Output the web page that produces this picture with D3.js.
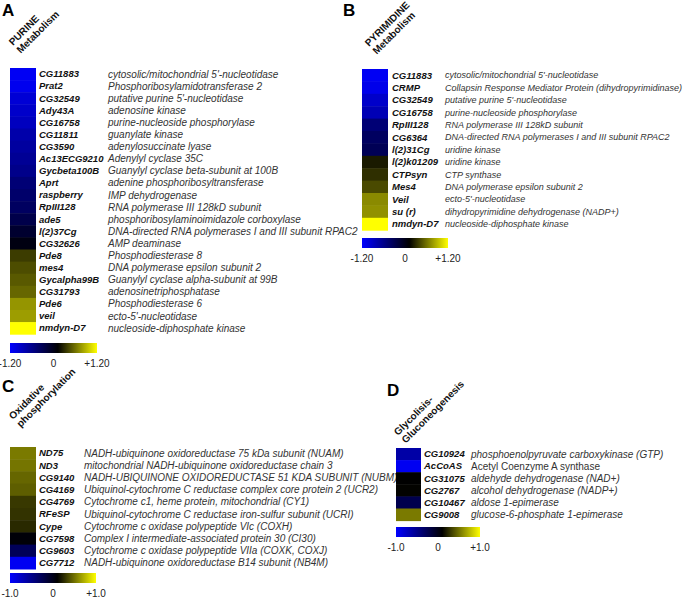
<!DOCTYPE html>
<html>
<head>
<meta charset="utf-8">
<script src="https://cdn.jsdelivr.net/npm/d3@7"></script>
<style>
body { margin: 0; background: #fff; }
svg text { font-family: "Liberation Sans", Arial, sans-serif; }
</style>
</head>
<body>
<div id="chart"></div>
<script>
// A - purine metabolism
var genesA = ["CG11883", "Prat2", "CG32549", "Ady43A", "CG16758", "CG11811", "CG3590",
  "Ac13ECG9210", "Gycbeta100B", "Aprt", "raspberry", "RpIII128", "ade5", "l(2)37Cg",
  "CG32626", "Pde8", "mes4", "Gycalpha99B", "CG31793", "Pde6", "veil", "nmdyn-D7"];
var descA = ["cytosolic/mitochondrial 5'-nucleotidase", "Phosphoribosylamidotransferase 2",
  "putative purine 5'-nucleotidase", "adenosine kinase", "purine-nucleoside phosphorylase",
  "guanylate kinase", "adenylosuccinate lyase", "Adenylyl cyclase 35C",
  "Guanylyl cyclase beta-subunit at 100B", "adenine phosphoribosyltransferase",
  "IMP dehydrogenase", "RNA polymerase III 128kD subunit",
  "phosphoribosylaminoimidazole corboxylase", "DNA-directed RNA polymerases I and III subunit RPAC2",
  "AMP deaminase", "Phosphodiesterase 8", "DNA polymerase epsilon subunit 2",
  "Guanylyl cyclase alpha-subunit at 99B", "adenosinetriphosphatase", "Phosphodiesterase 6",
  "ecto-5'-nucleotidase", "nucleoside-diphosphate kinase"];
var valuesA = [-1.15, -1.12, -1.0, -0.95, -0.9, -0.8, -0.75, -0.7, -0.65, -0.55, -0.5,
  -0.45, -0.35, -0.22, -0.08, 0.28, 0.36, 0.42, 0.48, 0.7, 0.74, 1.2];
var ticksA = ["-1.20", "0", "+1.20"];

// B - pyrimidine metabolism
var genesB = ["CG11883", "CRMP", "CG32549", "CG16758", "RpIII128", "CG6364", "l(2)31Cg",
  "l(2)k01209", "CTPsyn", "Mes4", "Veil", "su (r)", "nmdyn-D7"];
var descB = ["cytosolic/mitochondrial 5'-nucleotidase",
  "Collapsin Response Mediator Protein (dihydropyrimidinase)",
  "putative purine 5'-nucleotidase", "purine-nucleoside phosphorylase",
  "RNA polymerase III 128kD subunit", "DNA-directed RNA polymerases I and III subunit RPAC2",
  "uridine kinase", "uridine kinase", "CTP synthase", "DNA polymerase epsilon subunit 2",
  "ecto-5'-nucleotidase", "dihydropyrimidine dehydrogenase (NADP+)",
  "nucleoside-diphosphate kinase"];
var valuesB = [-1.15, -1.1, -0.95, -0.85, -0.55, -0.45, -0.4, 0.12, 0.22, 0.35, 0.65, 0.68, 1.2];
var ticksB = ["-1.20", "0", "+1.20"];

// C - oxidative phosphorylation
var genesC = ["ND75", "ND3", "CG9140", "CG4169", "CG4769", "RFeSP", "Cype", "CG7598",
  "CG9603", "CG7712"];
var descC = ["NADH-ubiquinone oxidoreductase 75 kDa subunit (NUAM)",
  "mitochondrial NADH-ubiquinone oxidoreductase chain 3",
  "NADH-UBIQUINONE OXIDOREDUCTASE 51 KDA SUBUNIT (NUBM)",
  "Ubiquinol-cytochrome C reductase complex core protein 2 (UCR2)",
  "Cytochrome c1, heme protein, mitochondrial (CY1)",
  "Ubiquinol-cytochrome C reductase iron-sulfur subunit (UCRI)",
  "Cytochrome c oxidase polypeptide VIc (COXH)",
  "Complex I intermediate-associated protein 30 (CI30)",
  "Cytochrome c oxidase polypeptide VIIa (COXK, COXJ)",
  "NADH-ubiquinone oxidoreductase B14 subunit (NB4M)"];
var valuesC = [0.48, 0.46, 0.4, 0.37, 0.22, 0.2, 0.16, -0.03, -0.35, -0.95];
var ticksC = ["-1.0", "0", "+1.0"];

// D - glycolisis / gluconeogenesis
var genesD = ["CG10924", "AcCoAS", "CG31075", "CG2767", "CG10467", "CG9008"];
var descD = ["phosphoenolpyruvate carboxykinase (GTP)", "Acetyl Coenzyme A synthase",
  "aldehyde dehydrogenase (NAD+)", "alcohol dehydrogenase (NADP+)", "aldose 1-epimerase",
  "glucose-6-phosphate 1-epimerase"];
var valuesD = [-0.65, -0.95, 0.0, 0.01, -0.3, 0.48];
var ticksD = ["-1.0", "0", "+1.0"];

var svg = d3.select("#chart").append("svg")
    .attr("width", 683)
    .attr("height", 599);

var defs = svg.append("defs");
var grad = defs.append("linearGradient").attr("id", "bar");
grad.append("stop").attr("offset", "0%").attr("stop-color", "#0000ff");
grad.append("stop").attr("offset", "55%").attr("stop-color", "#000000");
grad.append("stop").attr("offset", "100%").attr("stop-color", "#ffff00");

function drawPanel(p) {
  var g = svg.append("g");
  var color = d3.scaleLinear()
    .domain([-p.max, 0, p.max])
    .range(["#0000ff", "#000000", "#ffff00"])
    .clamp(true);

  g.append("text")
    .attr("x", p.labelX).attr("y", p.labelY)
    .attr("font-size", 17).attr("font-weight", "bold")
    .text(p.letter);

  // rotated title, one text per line, lines stacked perpendicular to the slant
  var c = Math.SQRT1_2;
  g.selectAll("text.title").data(p.title).enter()
    .append("text")
      .attr("class", "title")
      .attr("transform", function(d, i) {
        var tx = p.titleX + i * 11 * c, ty = p.titleY + i * 11 * c;
        return "translate(" + tx + "," + ty + ") rotate(-45)";
      })
      .attr("font-size", 10).attr("font-weight", "bold").attr("fill", "#111")
      .text(function(d) { return d; });

  var y = d3.scaleBand()
    .domain(d3.range(p.genes.length))
    .range([p.top, p.top + p.genes.length * p.rowH]);

  g.selectAll("rect.cell").data(p.values).enter()
    .append("rect")
      .attr("class", "cell")
      .attr("x", p.x)
      .attr("y", function(d, i) { return y(i); })
      .attr("width", p.w)
      .attr("height", y.bandwidth() + 0.5)
      .attr("fill", function(d) { return color(d); });

  g.selectAll("text.gene").data(p.genes).enter()
    .append("text")
      .attr("class", "gene")
      .attr("x", p.geneX)
      .attr("y", function(d, i) { return y(i) + y.bandwidth() / 2; })
      .attr("dy", "0.35em")
      .attr("font-size", 9.5).attr("font-weight", "bold").attr("font-style", "italic")
      .attr("fill", "#111")
      .text(function(d) { return d; });

  g.selectAll("text.desc").data(p.desc).enter()
    .append("text")
      .attr("class", "desc")
      .attr("x", p.descX)
      .attr("y", function(d, i) { return y(i) + y.bandwidth() / 2; })
      .attr("dy", "0.35em")
      .attr("font-size", p.descSize)
      .attr("font-style", function(d, i) { return (p.upright || []).indexOf(p.genes[i]) >= 0 ? "normal" : "italic"; })
      .attr("fill", "#333")
      .text(function(d) { return d; });

  // colour bar
  var cx = d3.scaleLinear().domain([-p.max, p.max]).range([p.x, p.barEnd]);
  g.append("rect")
    .attr("x", cx(-p.max)).attr("y", p.barY)
    .attr("width", cx(p.max) - cx(-p.max)).attr("height", 10)
    .attr("fill", "url(#bar)");
  var tickVals = [-p.max, 0, p.max];
  g.selectAll("text.tick").data(p.ticks).enter()
    .append("text")
      .attr("class", "tick")
      .attr("x", function(d, i) { return cx(tickVals[i]); })
      .attr("y", p.barY + 24)
      .attr("text-anchor", "middle")
      .attr("font-size", 10)
      .attr("fill", "#222")
      .text(function(d) { return d; });
}

drawPanel({letter: "A", labelX: 2, labelY: 16, title: ["PURINE", "Metabolism"], titleX: 13, titleY: 46,
  genes: genesA, desc: descA, values: valuesA, ticks: ticksA, max: 1.2, descSize: 10,
  x: 10, w: 26, top: 68, rowH: 12.1, geneX: 39, descX: 108, barY: 343, barEnd: 97});

drawPanel({letter: "B", labelX: 343, labelY: 16, title: ["PYRIMIDINE", "Metabolism"], titleX: 369, titleY: 47,
  genes: genesB, desc: descB, values: valuesB, ticks: ticksB, max: 1.2, descSize: 9,
  x: 362, w: 26, top: 69, rowH: 12.4, geneX: 392, descX: 445, barY: 238, barEnd: 448});

drawPanel({letter: "C", labelX: 2, labelY: 392, title: ["Oxidative", "phosphorylation"], titleX: 13, titleY: 420,
  genes: genesC, desc: descC, values: valuesC, ticks: ticksC, max: 1.0, descSize: 10,
  x: 10, w: 26, top: 447, rowH: 12.2, geneX: 39, descX: 84, barY: 573, barEnd: 96});

drawPanel({letter: "D", labelX: 387, labelY: 396, title: ["Glycolisis-", "Gluconeogenesis"], titleX: 398, titleY: 436,
  genes: genesD, desc: descD, values: valuesD, ticks: ticksD, max: 1.0, upright: ["AcCoAS"], descSize: 10,
  x: 396, w: 25, top: 448, rowH: 12.1, geneX: 424, descX: 471, barY: 527, barEnd: 480});
</script>
</body>
</html>
